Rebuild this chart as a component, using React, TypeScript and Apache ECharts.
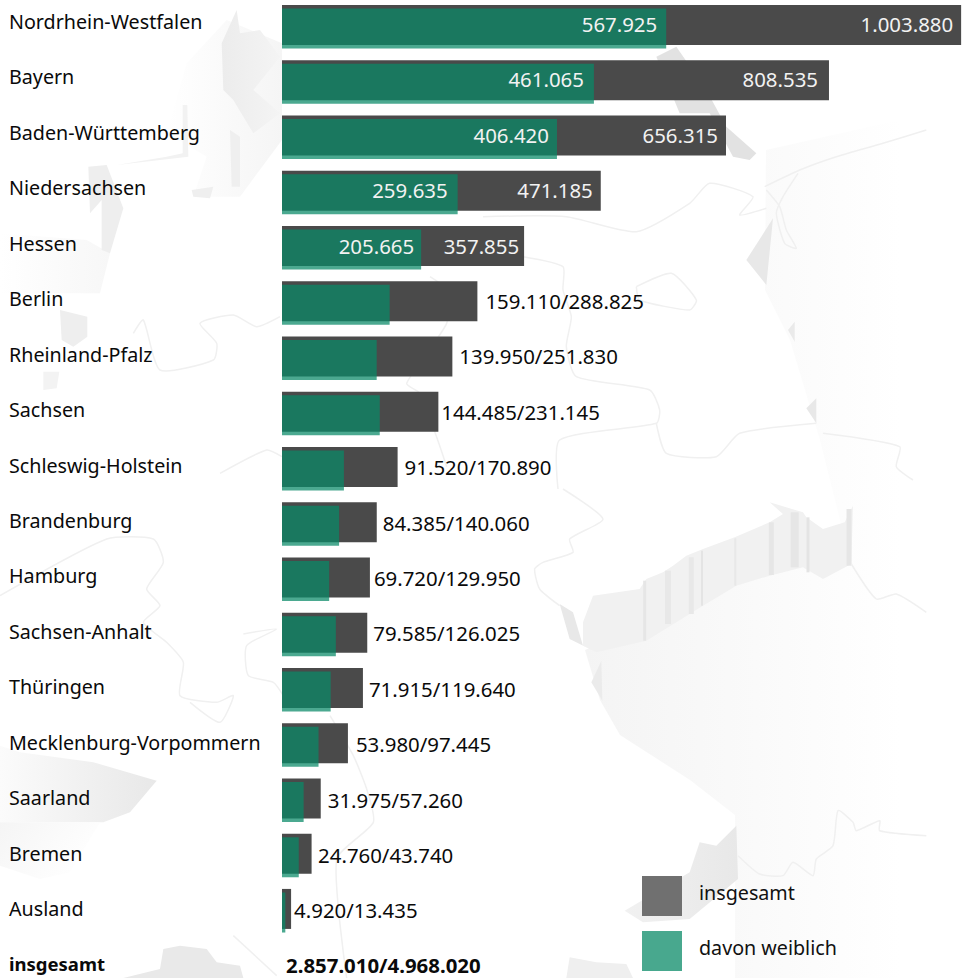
import React, { useEffect, useRef } from "react";
import * as echarts from "echarts";

const categories = [
  "Nordrhein-Westfalen", "Bayern", "Baden-Württemberg", "Niedersachsen", "Hessen", "Berlin",
  "Rheinland-Pfalz", "Sachsen", "Schleswig-Holstein", "Brandenburg", "Hamburg", "Sachsen-Anhalt",
  "Thüringen", "Mecklenburg-Vorpommern", "Saarland", "Bremen", "Ausland",
];
const totalRow = "insgesamt";
const insgesamt = [1003880, 808535, 656315, 471185, 357855, 288825, 251830, 231145, 170890, 140060, 129950, 126025, 119640, 97445, 57260, 43740, 13435];
const weiblich = [567925, 461065, 406420, 259635, 205665, 159110, 139950, 144485, 91520, 84385, 69720, 79585, 71915, 53980, 31975, 24760, 4920];
const grandTotal = 4968020;
const grandFemale = 2857010;
const legendNames = ["insgesamt", "davon weiblich"];

const FONT = '"Noto Sans", sans-serif';
const FS_CAT = 19.7;
const FS_VAL = 20.4;
const FS_LEG = 19.7;
const DARK = "#4a4a4a";
const GREEN = "rgba(9,138,103,0.735)";
const INSIDE_ROWS = 5;
const darkGap = [8, 11, 8, 8, 5, 8, 7, 3, 7, 6, 4, 6, 6, 8, 7, 6.5, 3];
const greenGap = [9, 10, 8, 10, 7];
const LABEL_DRIFT = 0.15; // text rows run on a slightly longer pitch than the bars

const fmt = (n: number) => String(n).replace(/\B(?=(\d{3})+(?!\d))/g, ".");

// background artwork: traced in 3x zoom coordinates of each quadrant
type P = number[][];
const q = (ox: number, oy: number, pts: P): P => pts.map(([x, y]) => [ox + x / 3, oy + y / 3]);
const grad = (a: string, b: string, x2 = 1, y2 = 0) =>
  new echarts.graphic.LinearGradient(0, 0, x2, y2, [{ offset: 0, color: a }, { offset: 1, color: b }]);

const poly = (points: P, fill: any) => ({ type: "polygon", z: -1, silent: true, shape: { points }, style: { fill } });
const line = (points: P, w = 1.5, c = "#f0f0f0") => ({
  type: "polyline", z: -1, silent: true, shape: { points, smooth: 0.2 },
  style: { stroke: c, lineWidth: w, fill: "none" },
});

const background = () => [
  // soft plateaus
  poly([[766, 150], [900, 120], [900, 978], [735, 978], [735, 815], [690, 780], [620, 735], [600, 700], [585, 650], [773, 570], [850, 540], [850, 560], [820, 440], [790, 340], [765, 290]], grad("#f4f4f4", "#ffffff")),
  poly(q(0, 0, [[560, 190], [680, 60], [846, 130], [846, 420], [720, 590], [580, 590], [620, 470], [500, 400]]), grad("#ffffff", "#f5f5f5")),
  poly(q(0, 489, [[0, 770], [60, 790], [280, 820], [470, 875], [390, 970], [310, 1000], [160, 1000], [0, 1000]]), grad("#fbfbfb", "#e8e8e8")),
  poly(q(0, 489, [[0, 1000], [300, 1000], [210, 1150], [120, 1170], [0, 1130]]), grad("#f5f5f5", "#ffffff", 1, 0.5)),
  poly(q(0, 0, [[0, 700], [260, 720], [330, 760], [300, 880], [0, 880]]), grad("#ffffff", "#f7f7f7")),
  // extruded walls, top left
  poly(q(0, 0, [[665, 130], [710, 30], [720, 100], [780, 90], [840, 170], [760, 270], [840, 340], [760, 400], [700, 300], [670, 270]]), grad("#ececec", "#f4f4f4")),
  poly(q(0, 0, [[690, 390], [720, 410], [720, 560], [695, 560]]), "#efefef"),
  poly(q(0, 0, [[548, 315], [562, 315], [565, 470], [350, 495], [500, 470], [548, 460]]), "#f2f2f2"),
  poly(q(0, 0, [[265, 500], [320, 495], [370, 625], [330, 760], [305, 750], [305, 600], [270, 640]]), "#eeeeee"),
  poly(q(0, 0, [[575, 570], [640, 560], [630, 595], [580, 590]]), "#efefef"),
  poly(q(0, 0, [[180, 930], [262, 950], [262, 1010], [220, 1040], [185, 1020]]), "#eeeeee"),
  poly(q(0, 0, [[130, 1115], [178, 1115], [170, 1165], [130, 1170]]), "#f3f3f3"),
  // top right pieces
  poly(q(483, 0, [[520, 170], [580, 140], [670, 270], [730, 380], [820, 460], [800, 480], [750, 470], [680, 340], [590, 340]]), "#e2e2e2"),
  poly(q(483, 0, [[870, 655], [850, 855], [790, 780]]), "#e8e8e8"),
  poly(q(483, 0, [[935, 965], [935, 1025], [915, 990]]), "#eaeaea"),
  poly(q(483, 0, [[1000, 1195], [1000, 1270], [970, 1225]]), "#e8e8e8"),
  // long wall, lower right
  poly(q(483, 489, [[230, 345], [270, 370], [300, 470], [340, 490], [260, 450]]), "#e8e8e8"),
  poly(q(483, 489, [[300, 400], [330, 320], [470, 300], [490, 270], [540, 250], [570, 230], [610, 200], [660, 180], [755, 145], [860, 100], [900, 75], [860, 40], [960, 70], [970, 85], [1020, 120], [1085, 100], [1110, 50], [1105, 225], [1020, 270], [960, 235], [860, 260], [760, 290], [660, 350], [490, 455], [340, 490], [300, 470]]), "#f1f1f1"),
  line(q(483, 489, [[485, 275], [485, 455]]), 3, "#e6e6e6"),
  line(q(483, 489, [[555, 245], [555, 405]]), 6, "#e8e8e8"),
  line(q(483, 489, [[625, 205], [625, 375]]), 5, "#e8e8e8"),
  line(q(483, 489, [[657, 185], [657, 350]]), 2, "#e4e4e4"),
  line(q(483, 489, [[757, 148], [757, 290]]), 2, "#e8e8e8"),
  line(q(483, 489, [[865, 100], [865, 258]]), 5, "#e6e6e6"),
  line(q(483, 489, [[935, 70], [935, 235]]), 8, "#e6e6e6"),
  line(q(483, 489, [[975, 85], [975, 250]]), 3, "#e4e4e4"),
  line(q(483, 489, [[1098, 60], [1098, 230]]), 5, "#e6e6e6"),
  poly(q(483, 489, [[355, 515], [358, 635], [325, 580]]), "#ebebeb"),
  // lower wall beside the legend
  poly(q(483, 489, [[650, 1060], [700, 1070], [760, 1010], [765, 1170], [620, 1290], [480, 1300], [425, 1265], [620, 1150]]), grad("#f1f1f1", "#e8e8e8")),
  poly(q(483, 489, [[250, 1467], [260, 1405], [340, 1420], [430, 1425], [450, 1467]]), "#efefef"),
  poly(q(0, 489, [[370, 1467], [480, 1440], [490, 1380], [540, 1370], [620, 1380], [650, 1420], [720, 1430], [730, 1467]]), "#e9e9e9"),
  // state and coast lines
  line(q(483, 0, [[845, 560], [950, 510], [1060, 470], [1200, 430], [1330, 390]])),
  line(q(483, 0, [[850, 570], [890, 620], [910, 690], [940, 745], [905, 730], [880, 640], [900, 590], [945, 520]])),
  line(q(483, 0, [[1020, 1300], [1250, 1340], [1240, 1400], [1290, 1440]])),
  line(q(483, 0, [[0, 650], [250, 650], [460, 695], [620, 610], [680, 550], [810, 590], [770, 645], [850, 625]])),
  line(q(483, 0, [[120, 770], [240, 800], [240, 870], [265, 950], [250, 1040], [280, 1130], [500, 1170], [530, 1230], [520, 1270], [230, 1320], [225, 1467]])),
  line(q(483, 0, [[520, 1270], [550, 1360], [700, 1370], [770, 1300], [1000, 1270]])),
  line(q(483, 0, [[460, 860], [565, 820], [640, 900], [620, 930], [470, 900], [460, 860]])),
  line(q(0, 0, [[400, 1000], [430, 960], [480, 1110], [640, 1080], [650, 1030], [600, 970], [700, 945], [770, 980], [840, 950]])),
  line(q(0, 0, [[660, 1420], [800, 1350], [846, 1370]])),
  line(q(0, 0, [[1290, 830], [1340, 870], [1340, 970], [1220, 1150], [1260, 1180], [1320, 1340], [1340, 1400]])),
  line(q(0, 489, [[0, 320], [320, 150], [460, 150], [490, 220], [440, 300], [480, 350], [430, 400], [500, 460], [550, 520], [540, 620], [650, 640], [700, 620], [660, 700], [570, 640]])),
  line(q(0, 489, [[730, 435], [830, 420], [740, 470], [745, 560], [820, 580], [850, 620]])),
  line(q(0, 489, [[990, 680], [1060, 800], [1100, 900], [1120, 1000], [1010, 1110], [1040, 1467]])),
  line(q(0, 489, [[700, 1340], [830, 1460]])),
  line(q(483, 489, [[240, 0], [360, 90], [260, 150], [270, 190], [180, 220], [155, 240], [170, 300], [230, 350]])),
  line(q(483, 489, [[1105, 225], [1180, 330], [1240, 315], [1330, 370]])),
  line(q(483, 489, [[765, 1100], [830, 1155], [900, 1160], [930, 1120], [990, 1160], [1000, 1110], [1050, 1070], [1065, 965], [1110, 1000], [1120, 1025], [1190, 995], [1190, 1025], [1330, 1040]])),
];

export default function App() {
  const ref = useRef<HTMLDivElement>(null);
  useEffect(() => {
    document.body.style.margin = "0";
    const chart = echarts.init(ref.current!, undefined, { renderer: "svg" });
    const darkOffset = (i: number) => [0, -1 + LABEL_DRIFT * i];
    const greenOffset = (i: number) => [0, -4.5 + LABEL_DRIFT * i];
    const darkData: any[] = insgesamt.map((v, i) => ({
      value: v,
      label: i < INSIDE_ROWS
        ? { show: true, position: "insideRight", distance: darkGap[i], offset: darkOffset(i), formatter: fmt(v), color: "#f2f2f2", fontFamily: FONT, fontSize: FS_VAL }
        : { show: true, position: "right", distance: darkGap[i], offset: darkOffset(i), formatter: `${fmt(weiblich[i])}/${fmt(v)}`, color: "#0a0a0a", fontFamily: FONT, fontSize: FS_VAL },
    }));
    darkData.push({
      value: 0,
      label: { show: true, position: "right", distance: 4, offset: [0, 0.6], formatter: `${fmt(grandFemale)}/${fmt(grandTotal)}`, color: "#0a0a0a", fontFamily: FONT, fontSize: FS_VAL, fontWeight: "bold" },
    });
    const greenData: any[] = weiblich.map((v, i) => ({
      value: v,
      label: i < INSIDE_ROWS
        ? { show: true, position: "insideRight", distance: greenGap[i], offset: greenOffset(i), formatter: fmt(v), color: "#f2f2f2", fontFamily: FONT, fontSize: FS_VAL }
        : { show: false },
    }));
    greenData.push({ value: 0, label: { show: false } });
    const rows = [...categories, totalRow];

    chart.setOption({
      animation: false,
      backgroundColor: "#ffffff",
      graphic: { elements: background() },
      grid: [
        { left: 282, width: 684, top: -0.9, height: 994.5, containLabel: false, outerBoundsMode: "none" },
        { left: 282, width: 684, top: -6.2, height: 997.9, containLabel: false, outerBoundsMode: "none" },
      ],
      legend: {
        left: 642, top: 876, orient: "vertical", itemWidth: 40, itemHeight: 40, itemGap: 15, padding: 0,
        selectedMode: false, icon: "rect",
        formatter: "{a|{name}}\n{s| }",
        textStyle: {
          padding: [0, 0, 0, 12],
          rich: {
            a: { fontFamily: FONT, fontSize: FS_LEG, color: "#111111" },
            s: { fontSize: 1, lineHeight: 8 },
          },
        },
        data: [
          { name: legendNames[0], itemStyle: { color: "#707070" } },
          { name: legendNames[1], itemStyle: { color: "#48a88e" } },
        ],
      },
      xAxis: [
        { type: "value", gridIndex: 0, min: 0, max: 1011086, show: false },
        { type: "value", gridIndex: 1, min: 0, max: 1011086, show: false },
      ],
      yAxis: [
        {
          type: "category", gridIndex: 0, inverse: true, data: rows,
          axisLine: { show: false }, axisTick: { show: false }, axisLabel: { show: false },
        },
        {
          type: "category", gridIndex: 1, inverse: true, data: rows,
          axisLine: { show: false }, axisTick: { show: false },
          axisLabel: {
            align: "left", margin: 273, color: "#0a0a0a", fontFamily: FONT, fontSize: FS_CAT,
            interval: 0,
            formatter: (v: string, i: number) => (i === categories.length ? `{b|${v}}` : v),
            rich: { b: { fontWeight: "bold", fontFamily: FONT, fontSize: 18.5, color: "#0a0a0a" } },
          },
        },
      ],
      series: [
        { name: legendNames[0], type: "bar", barWidth: 40, barGap: "-91%", data: darkData, itemStyle: { color: DARK } },
        { name: legendNames[1], type: "bar", barWidth: 40, data: greenData, itemStyle: { color: GREEN } },
      ],
    });
    return () => chart.dispose();
  }, []);
  return <div ref={ref} style={{ width: 966, height: 978 }} />;
}
